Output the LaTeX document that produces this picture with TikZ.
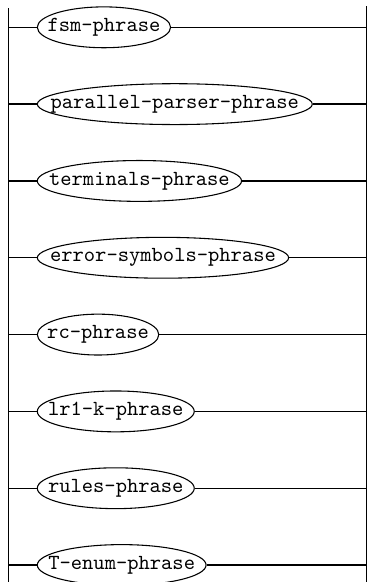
\documentclass[tikz,border=0pt]{standalone}
\usetikzlibrary{shapes.geometric}

\tikzset{
  phrase/.style={draw, ellipse, line width=0.5pt, inner xsep=-60pt,
    inner ysep=0pt, minimum height=19pt, anchor=west, font=\ttfamily},
  rail/.style={line width=0.8pt},
  track/.style={line width=0.6pt}
}
% name, row, ellipse width, text
\newcommand\phrase[4]{%
  \node[phrase, minimum width=#3] (#1) at (17.1pt,#2) {#4};}

\begin{document}
\begin{tikzpicture}
      \useasboundingbox (0,0) rectangle (173pt,-270.7pt);
      \coordinate (lt) at (3.95pt,-3.86pt);
      \coordinate (lb) at (3.95pt,-270.7pt);
      \coordinate (rt) at (170.5pt,-2.8pt);
      \coordinate (rb) at (170.5pt,-270.7pt);
      \phrase{fsm}{-12.7pt}{62pt}{fsm-phrase}
      \phrase{parallel}{-48.43pt}{127.9pt}{parallel-parser-phrase}
      \phrase{terminals}{-84.16pt}{95pt}{terminals-phrase}
      \phrase{errsym}{-119.89pt}{116.9pt}{error-symbols-phrase}
      \phrase{rc}{-155.62pt}{56.5pt}{rc-phrase}
      \phrase{lrk}{-191.35pt}{73pt}{lr1-k-phrase}
      \phrase{rules}{-227.08pt}{73pt}{rules-phrase}
      \phrase{tenum}{-262.81pt}{78.5pt}{T-enum-phrase}
      \draw[rail] (lt) -- (lb);
      \draw[rail] (rt) -- (rb);
      \begin{scope}[track]
        \draw (fsm.west -| lt) -- (fsm.west);
        \draw (fsm.east) -- (fsm.east -| rt);
        \draw (parallel.west -| lt) -- (parallel.west);
        \draw (parallel.east) -- (parallel.east -| rt);
        \draw (terminals.west -| lt) -- (terminals.west);
        \draw (terminals.east) -- (terminals.east -| rt);
        \draw (errsym.west -| lt) -- (errsym.west);
        \draw (errsym.east) -- (errsym.east -| rt);
        \draw (rc.west -| lt) -- (rc.west);
        \draw (rc.east) -- (rc.east -| rt);
        \draw (lrk.west -| lt) -- (lrk.west);
        \draw (lrk.east) -- (lrk.east -| rt);
        \draw (rules.west -| lt) -- (rules.west);
        \draw (rules.east) -- (rules.east -| rt);
        \draw (tenum.west -| lt) -- (tenum.west);
        \draw (tenum.east) -- (tenum.east -| rt);
      \end{scope}
\end{tikzpicture}
\end{document}
